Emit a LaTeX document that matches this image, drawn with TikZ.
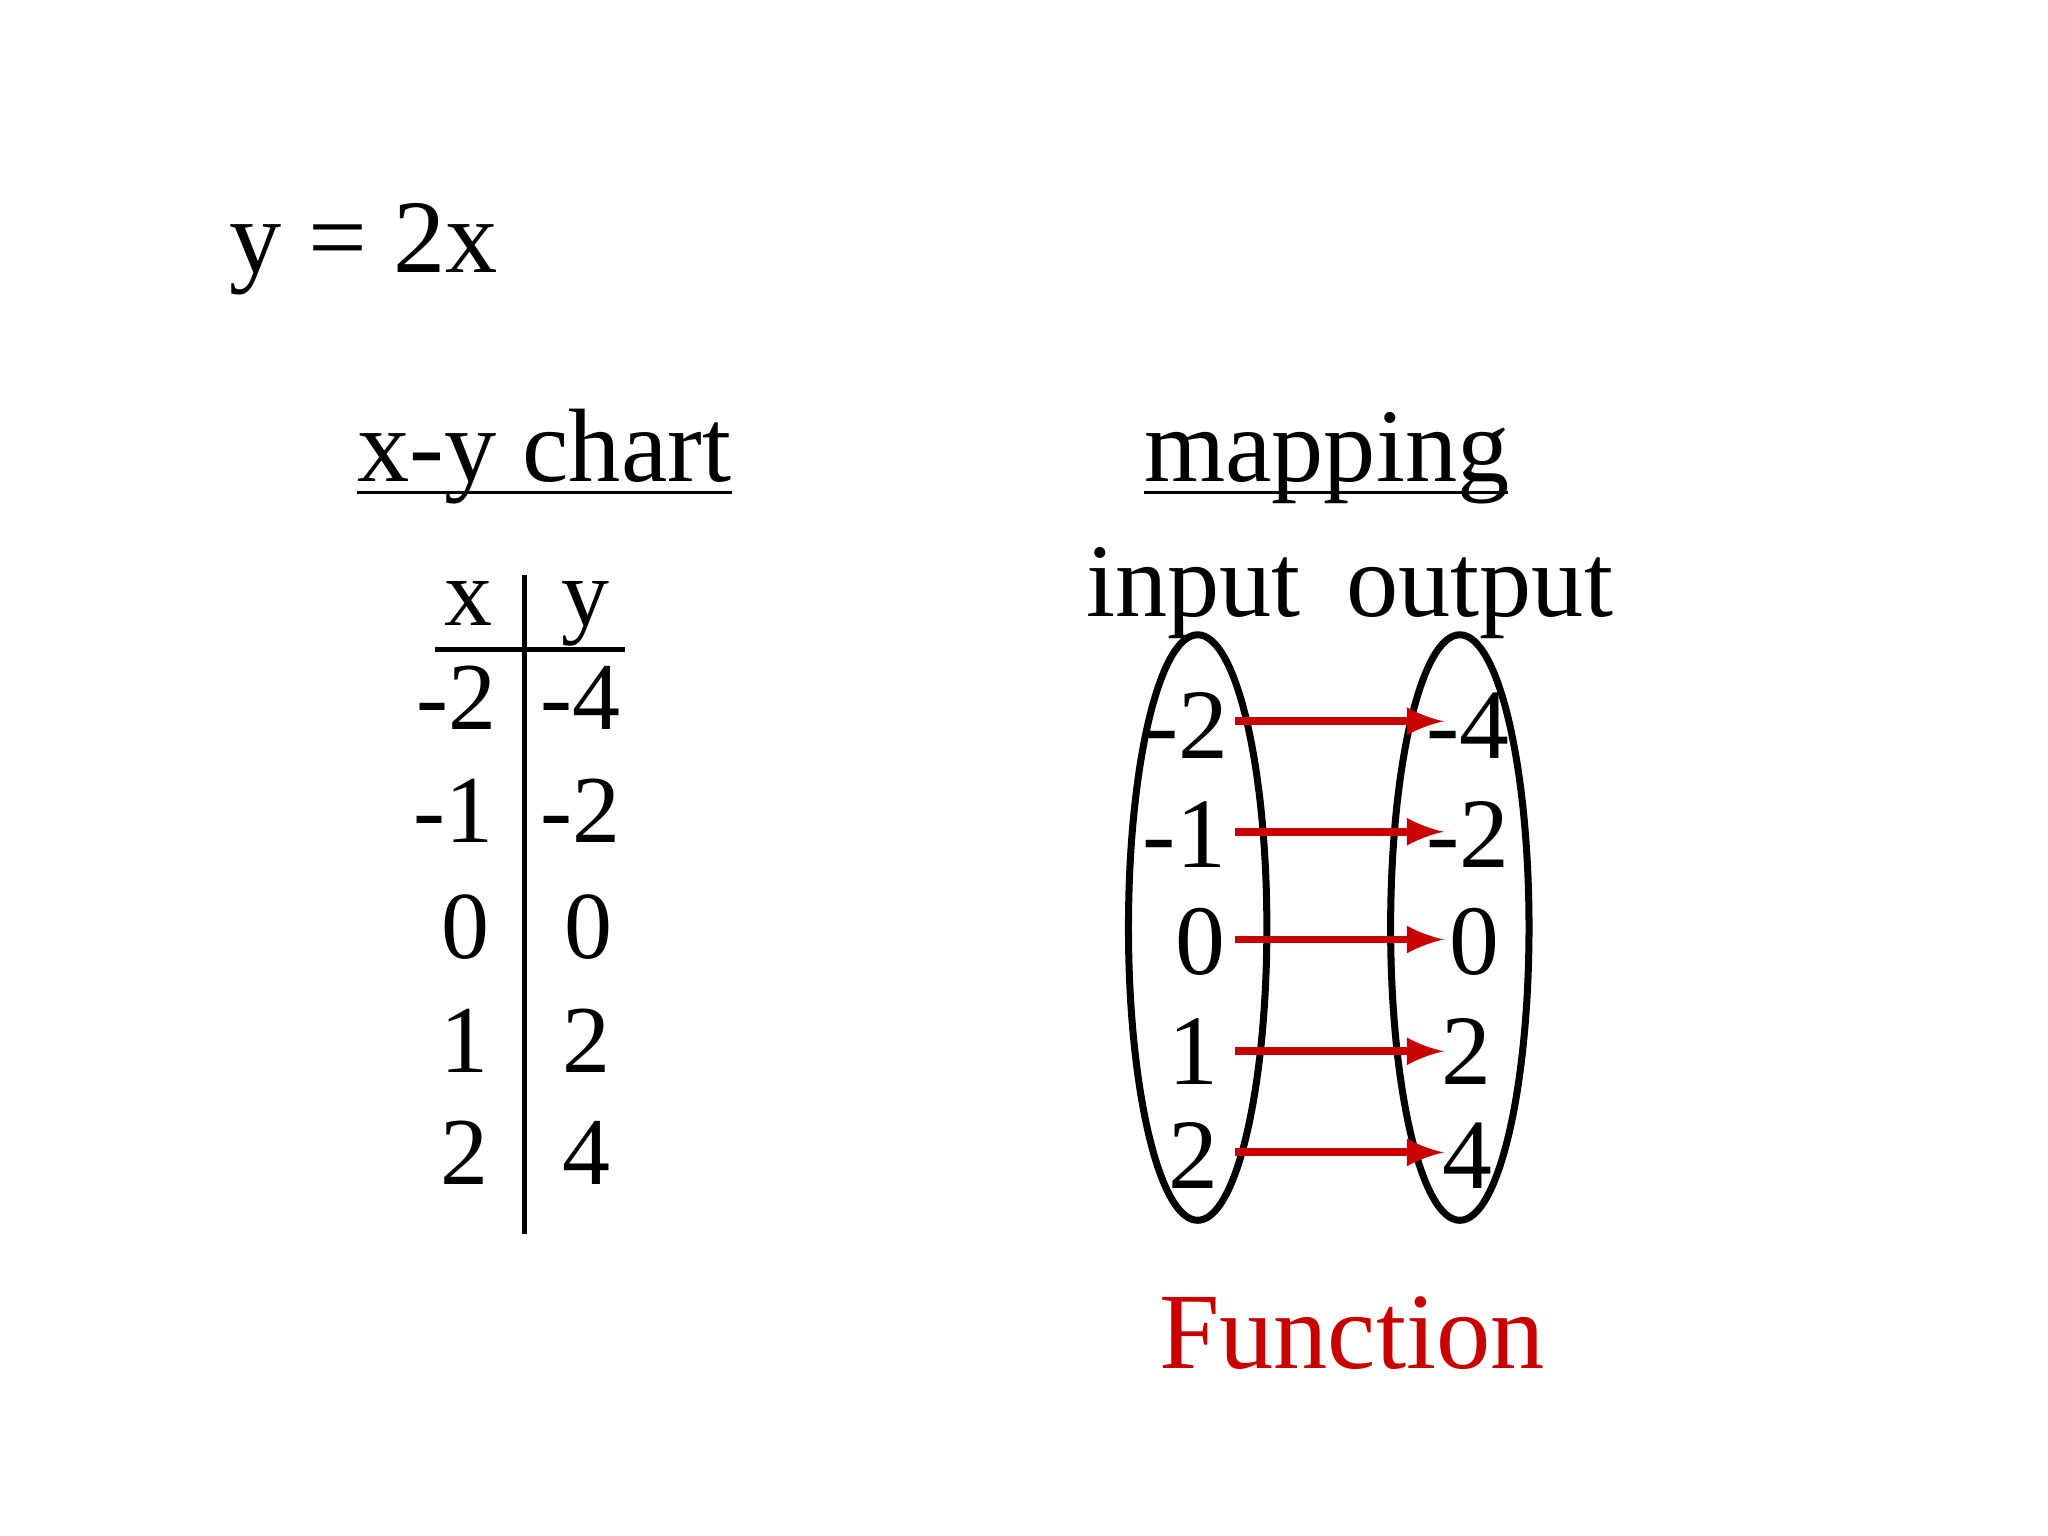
\documentclass[tikz,border=0pt]{standalone}
\usepackage{fontspec}
\setmainfont{Liberation Serif}
\definecolor{fred}{RGB}{200,0,0}
\begin{document}
\begin{tikzpicture}[x=0.01cm,y=-0.01cm,
  big/.style={font=\fontsize{22.3}{26}\selectfont,inner sep=0pt,anchor=base},
  num/.style={font=\fontsize{20.5}{24}\selectfont,inner sep=0pt,anchor=base},
  setell/.style={draw,line width=1.5pt},
  maparrow/.style={draw=fred,line width=1.7pt,-latex}]
\useasboundingbox (0,0) rectangle (1539,1154);
\node[big,anchor=base west] (eq) at (172,205) {y = 2x};
\node[big] (chart) at (409,362) {x-y chart};
\draw[line width=0.8pt] (268,370) -- (550,370);
\node[big] (mapping) at (997,362) {mapping};
\draw[line width=0.8pt] (860,370) -- (1133,370);
\node[big] (input) at (897,463) {input};
\node[big] (output) at (1112,463) {output};
% table
\draw[line width=1.1pt] (394,432) -- (394,927);
\draw[line width=1.1pt] (327,488) -- (470,488);
\node[num] (hx) at (352,470) {x};
\node[num] (hy) at (440,470) {y};
\foreach \a/\b/\xa/\xb/\yy [count=\i] in {-2/-4/343/436/548,-1/-2/341/436/633,0/0/350/442/720,1/2/349/441/806,2/4/349/441/890}{
  \node[num] (tx\i) at (\xa,\yy) {\a};
  \node[num] (ty\i) at (\xb,\yy) {\b};
}
% mapping
\draw[setell] (900,697) ellipse [x radius=52, y radius=220];
\draw[setell] (1097,697) ellipse [x radius=52, y radius=220];
\foreach \a/\b/\xa/\xb/\yy/\ay [count=\i] in {-2/-4/892/1103/570/542,-1/-2/890/1103/652/625,0/0/902/1108/732/706,1/2/897/1102/815/790,2/4/897/1103/893/866}{
  \node[num,font=\fontsize{21.3}{24}\selectfont] (in\i) at (\xa,\yy) {\a};
  \node[num,font=\fontsize{21.3}{24}\selectfont] (out\i) at (\xb,\yy) {\b};
  \coordinate (s\i) at (928,\ay);
  \coordinate (e\i) at (1085,\ay);
  \draw[maparrow] (s\i) -- (e\i);
}
\node[big,text=fred,font=\fontsize{23.2}{26}\selectfont] (func) at (1016,1028) {Function};
\end{tikzpicture}
\end{document}
